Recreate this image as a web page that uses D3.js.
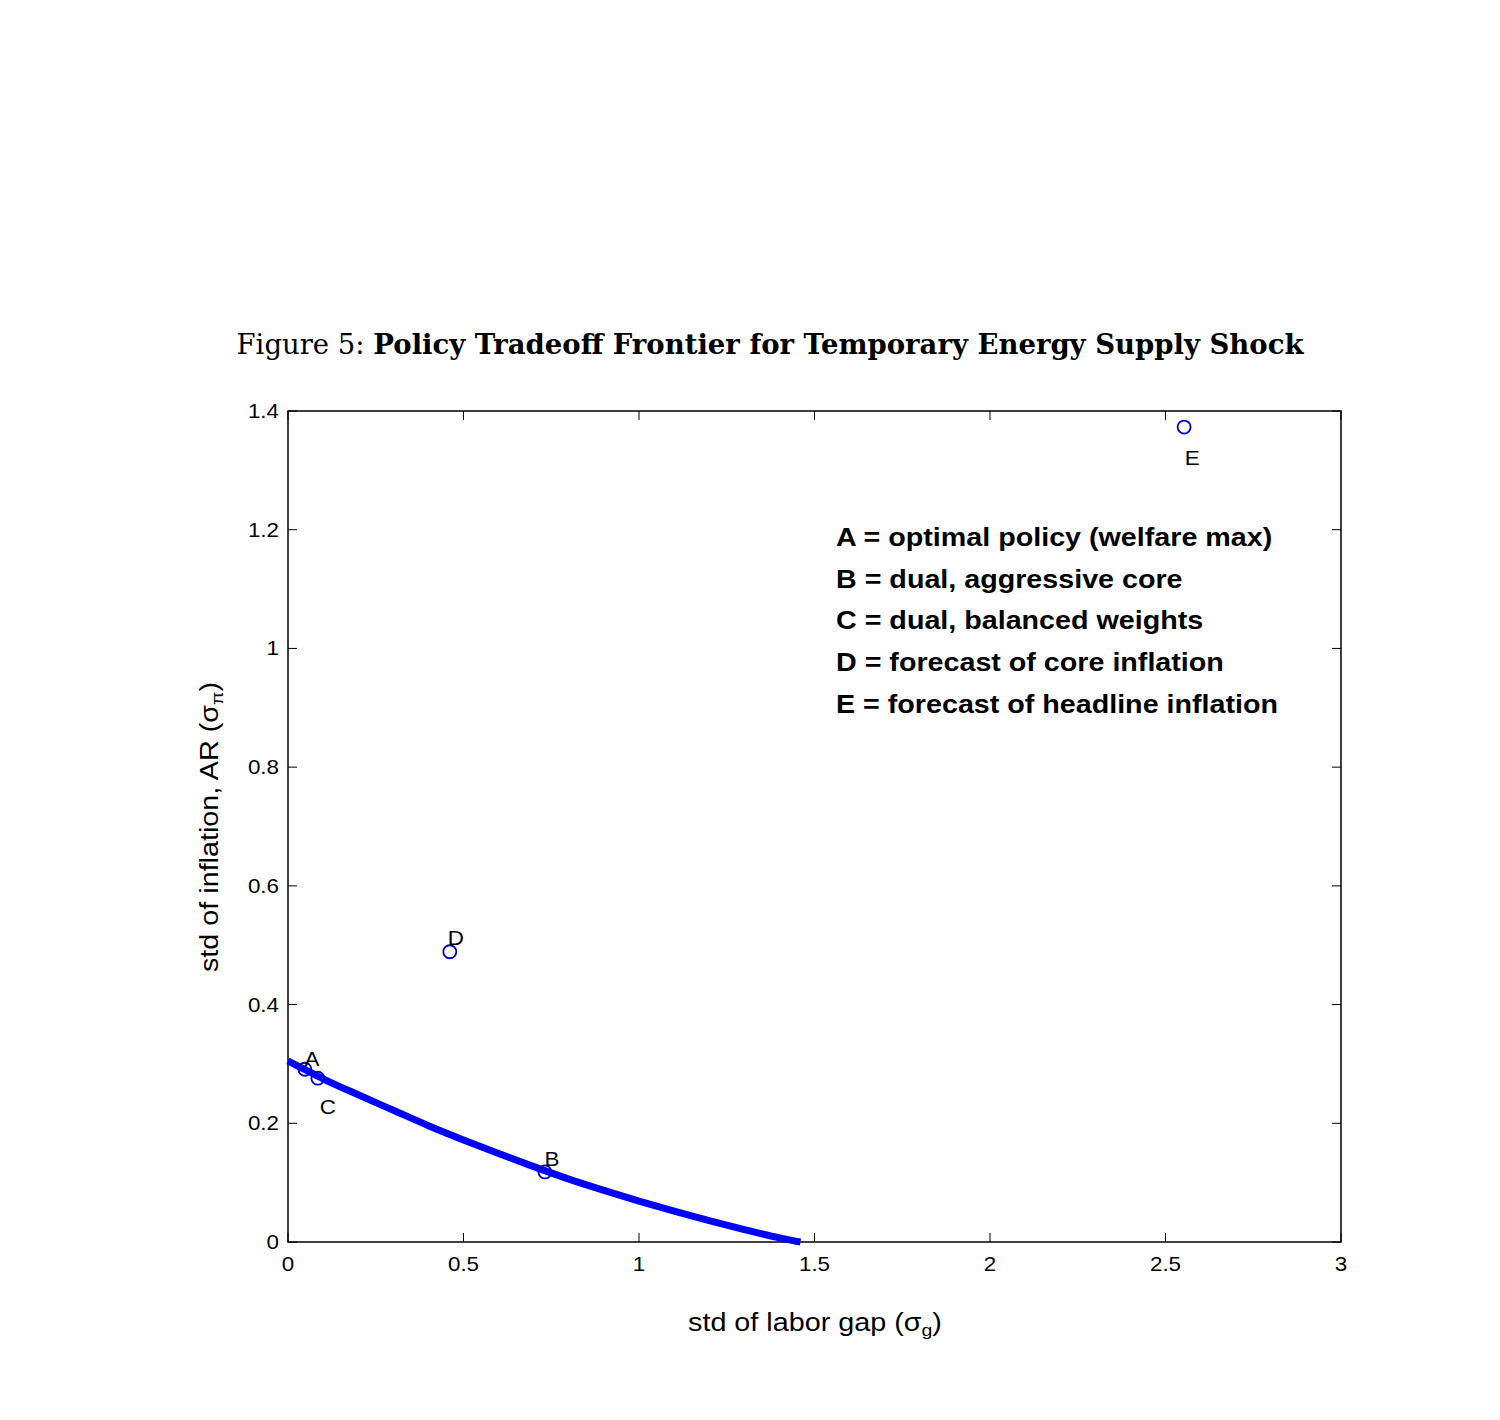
<!DOCTYPE html>
<html><head><meta charset="utf-8">
<script src="https://cdn.jsdelivr.net/npm/d3@7"></script>
<style>body{margin:0;background:#fff}</style></head>
<body><svg id="c" width="1500" height="1420"></svg>
<script>
const frontierX=[0,0.05,0.1,0.2,0.3,0.4,0.5,0.6,0.7,0.8,0.9,1.0,1.1,1.2,1.3,1.4,1.46];
const frontierY=[0.305,0.29,0.275,0.248,0.222,0.196,0.172,0.149,0.127,0.106,0.087,0.069,0.052,0.036,0.021,0.007,0];
const pointLabels=["A","C","B","D","E"];
const pointX=[0.048,0.085,0.732,0.461,2.553];
const pointY=[0.291,0.276,0.118,0.489,1.373];
const xTicks=[0,0.5,1,1.5,2,2.5,3];
const yTicks=[0,0.2,0.4,0.6,0.8,1,1.2,1.4];
const legendLines=["A = optimal policy (welfare max)","B = dual, aggressive core","C = dual, balanced weights","D = forecast of core inflation","E = forecast of headline inflation"];

const svg=d3.select("#c");
const L=288,R=1341,T=411,B=1242;
const x=d3.scaleLinear().domain([0,3]).range([L,R]);
const y=d3.scaleLinear().domain([0,1.4]).range([B,T]);
const sans="Liberation Sans, Arial, sans-serif";
// horizontally stretched text helper
function st(px,py,str,size,anchor,sx,weight){
  const g=svg.append("g").attr("transform",`translate(${px},${py}) scale(${sx},1)`);
  return g.append("text").attr("text-anchor",anchor).attr("font-family",sans).attr("font-size",size).attr("font-weight",weight||"normal").text(str);
}

svg.append("text").attr("x",770).attr("y",354).attr("text-anchor","middle")
 .attr("font-family","DejaVu Serif, Liberation Serif, serif").attr("font-size",27.5)
 .html('Figure 5: <tspan font-weight="bold">Policy Tradeoff Frontier for Temporary Energy Supply Shock</tspan>');

svg.append("rect").attr("x",L).attr("y",T).attr("width",R-L).attr("height",B-T).attr("fill","none").attr("stroke","#000").attr("stroke-width",1.5);
const tl=9;
xTicks.forEach(t=>{
 svg.append("line").attr("x1",x(t)).attr("x2",x(t)).attr("y1",B).attr("y2",B-tl).attr("stroke","#000");
 svg.append("line").attr("x1",x(t)).attr("x2",x(t)).attr("y1",T).attr("y2",T+tl).attr("stroke","#000");
 st(x(t),B+29,String(t),20,"middle",1.12);
});
yTicks.forEach(t=>{
 svg.append("line").attr("x1",L).attr("x2",L+tl).attr("y1",y(t)).attr("y2",y(t)).attr("stroke","#000");
 svg.append("line").attr("x1",R).attr("x2",R-tl).attr("y1",y(t)).attr("y2",y(t)).attr("stroke","#000");
 st(L-9,y(t)+7,String(t),20,"end",1.12);
});

svg.append("g").attr("transform","translate(815,1331) scale(1.15,1)").append("text").attr("text-anchor","middle").attr("font-family",sans).attr("font-size",25)
 .html('std of labor gap (σ<tspan baseline-shift="-30%" font-size="17">g</tspan>)');
svg.append("g").attr("transform","translate(218,827) rotate(-90) scale(1.15,1)").append("text").attr("text-anchor","middle").attr("font-family",sans).attr("font-size",25)
 .html('std of inflation, AR (σ<tspan baseline-shift="-30%" font-size="17">π</tspan>)');

const line=d3.line().x((d,i)=>x(frontierX[i])).y((d,i)=>y(frontierY[i])).curve(d3.curveMonotoneX);
svg.append("path").datum(frontierY).attr("d",line).attr("fill","none").attr("stroke","#0000ff").attr("stroke-width",7);

const offs={A:[7,-3],C:[10,36],B:[7,-6],D:[6,-7],E:[8,38]};
pointLabels.forEach((lab,i)=>{
 svg.append("circle").attr("cx",x(pointX[i])).attr("cy",y(pointY[i])).attr("r",6.5).attr("fill","none").attr("stroke","#0000cc").attr("stroke-width",1.8);
 st(x(pointX[i])+offs[lab][0],y(pointY[i])+offs[lab][1],lab,20,"middle",1.12);
});

legendLines.forEach((s,i)=>{
 st(836,546+i*41.7,s,25,"start",1.147,"bold");
});
</script></body></html>
